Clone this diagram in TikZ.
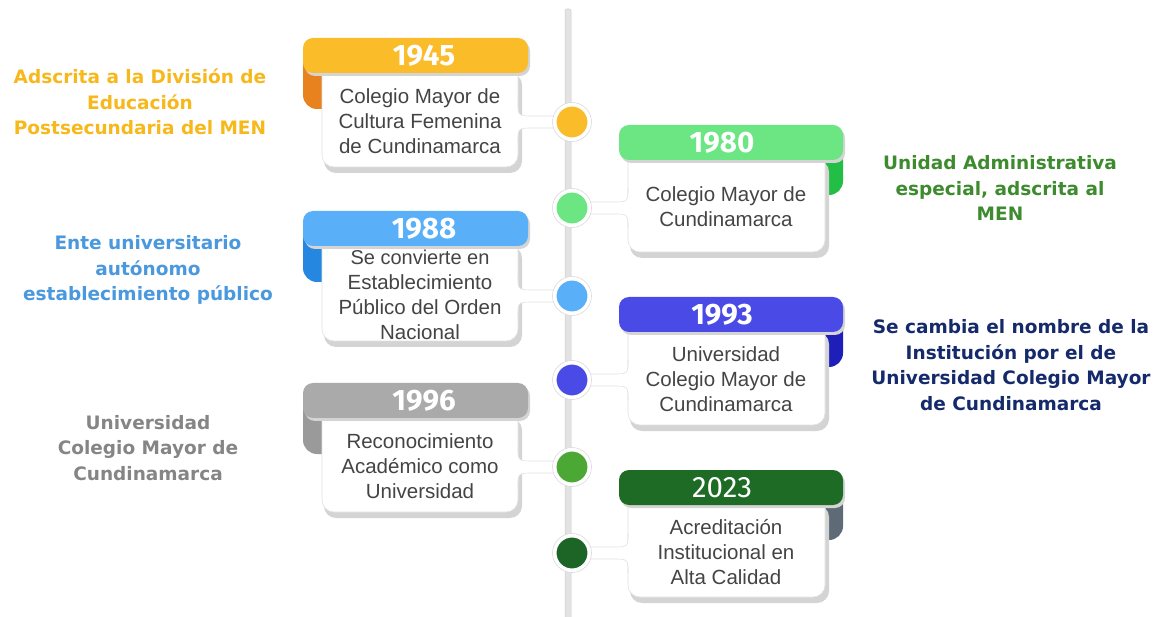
\documentclass[tikz,border=0pt]{standalone}
\usepackage{fontspec}
\setmainfont{Liberation Sans}
\newfontfamily\yearfont{Fira Sans}
\newfontfamily\notefont{DejaVu Sans}
\definecolor{cardgray}{HTML}{444444}
\definecolor{edgegray}{HTML}{E2E2E2}
\definecolor{shadowgray}{HTML}{D4D4D4}
\definecolor{ringgray}{HTML}{DADADA}
\definecolor{linegray}{HTML}{E3E3E3}
\definecolor{lineedge}{HTML}{CDCDCD}
\definecolor{hA}{HTML}{FBBC2A}\definecolor{tA}{HTML}{E8821E}\definecolor{dA}{HTML}{FBBC2A}
\definecolor{hB}{HTML}{6BE683}\definecolor{tB}{HTML}{22BE45}\definecolor{dB}{HTML}{6BE683}
\definecolor{hC}{HTML}{5AB0F8}\definecolor{tC}{HTML}{2587E0}\definecolor{dC}{HTML}{5AB0F8}
\definecolor{hD}{HTML}{4A4AE6}\definecolor{tD}{HTML}{1E1EB9}\definecolor{dD}{HTML}{4A4AE6}
\definecolor{hE}{HTML}{AAAAAA}\definecolor{tE}{HTML}{9A9A9A}\definecolor{dE}{HTML}{4CA834}
\definecolor{hF}{HTML}{1E6B26}\definecolor{tF}{HTML}{5E6B77}\definecolor{dF}{HTML}{1D6526}
\definecolor{nA}{HTML}{F7B81B}
\definecolor{nB}{HTML}{3E8B2F}
\definecolor{nC}{HTML}{4A98DE}
\definecolor{nD}{HTML}{152A6B}
\definecolor{nE}{HTML}{858585}
\tikzset{
  cardtext/.style={font=\fontsize{20.5}{25}\selectfont, text=cardgray, align=center, inner sep=0},
  yeartext/.style={font=\yearfont\bfseries\fontsize{29.5}{30}\selectfont, text=white, inner sep=0},
  yeartextlight/.style={font=\yearfont\fontsize{29.5}{30}\selectfont, text=white, inner sep=0},
  note/.style={font=\notefont\bfseries\fontsize{18.5}{25.7}\selectfont, align=center, inner sep=0},
  cardbody/.style={fill=white, draw=edgegray, line width=0.6pt, rounded corners=12pt},
  dot/.style={circle, draw=white, line width=3pt, minimum size=34pt, inner sep=0},
}
% #1 id, #2 header top, #3 dot y, #4 card bottom, #5 header, #6 tab, #7 dot, #8 year, #9 text
\newcommand\lcard[9]{%
  \pgfmathsetmacro\T{#2+35}\pgfmathsetmacro\M{(#2+35+#4)/2+1}%
  \fill[#6, rounded corners=14pt] (303,#2+15) rectangle (340,#2+71);
  \fill[shadowgray, rounded corners=12pt] (324,\T) rectangle (522,#4+6);
  \draw[cardbody] (322,\T-10) rectangle (518,#4);
  \fill[white] (517,#3-20) .. controls (518,#3-6) .. (534,#3-6) -- (572,#3-6) -- (572,#3+6) -- (534,#3+6) .. controls (518,#3+6) .. (517,#3+20) -- cycle;
  \draw[edgegray, line width=0.6pt] (518,#3-20) .. controls (518,#3-6) .. (534,#3-6) -- (558,#3-6)
     (518,#3+20) .. controls (518,#3+6) .. (534,#3+6) -- (558,#3+6);
  \fill[shadowgray, rounded corners=10pt] (305,#2+3) rectangle (530,#2+38);
  \fill[#5, rounded corners=10pt] (303,#2) rectangle (528,#2+35);
  \node[yeartext] (y#1) at (424,#2+18) {#8};
  \node[cardtext] (t#1) at (420,\M) {#9};
  \fill[white, draw=ringgray, line width=0.6pt] (572,#3) circle (19.5pt);
  \node[dot, fill=#7] (d#1) at (572,#3) {};
}
\newcommand\rcard[9]{%
  \pgfmathsetmacro\T{#2+35}\pgfmathsetmacro\M{(#2+35+#4)/2+1}%
  \fill[#6, rounded corners=14pt] (805,#2+15) rectangle (843,#2+70);
  \fill[shadowgray, rounded corners=12pt] (630,\T) rectangle (829,#4+6);
  \draw[cardbody] (628,\T-10) rectangle (825,#4);
  \fill[white] (629,#3-20) .. controls (628,#3-6) .. (612,#3-6) -- (572,#3-6) -- (572,#3+6) -- (612,#3+6) .. controls (628,#3+6) .. (629,#3+20) -- cycle;
  \draw[edgegray, line width=0.6pt] (628,#3-20) .. controls (628,#3-6) .. (612,#3-6) -- (586,#3-6)
     (628,#3+20) .. controls (628,#3+6) .. (612,#3+6) -- (586,#3+6);
  \fill[shadowgray, rounded corners=10pt] (621,#2+3) rectangle (845,#2+38);
  \fill[#5, rounded corners=10pt] (619,#2) rectangle (843,#2+35);
  \node[#8] (y#1) at (722,#2+18) {\yearlabel};
  \node[cardtext] (t#1) at (726,\M) {#9};
  \fill[white, draw=ringgray, line width=0.6pt] (572,#3) circle (19.5pt);
  \node[dot, fill=#7] (d#1) at (572,#3) {};
}
\begin{document}
\begin{tikzpicture}[x=1pt,y=-1pt]
\useasboundingbox (0,0) rectangle (1154,617);
\fill[white] (0,0) rectangle (1154,617);
% timeline
\draw[fill=linegray, draw=lineedge, line width=0.5pt, rounded corners=2pt] (565,9) -- (571,9) -- (571,620) -- (565,620) -- cycle;
% cards
\lcard{A}{38}{122}{167}{hA}{tA}{dA}{1945}{Colegio Mayor de\\Cultura Femenina\\de Cundinamarca}
\def\yearlabel{1980}
\rcard{B}{125}{208}{252}{hB}{tB}{dB}{yeartext}{Colegio Mayor de\\Cundinamarca}
\lcard{C}{211}{296}{341}{hC}{tC}{dC}{1988}{\fontsize{20}{23.4}\selectfont Se convierte en\\Establecimiento\\Público del Orden\\Nacional}
\def\yearlabel{1993}
\rcard{D}{297}{380}{425}{hD}{tD}{dD}{yeartext}{Universidad\\Colegio Mayor de\\Cundinamarca}
\lcard{E}{383}{467}{512}{hE}{tE}{dE}{1996}{Reconocimiento\\Académico como\\Universidad}
\def\yearlabel{2023}
\rcard{F}{470}{553}{597}{hF}{tF}{dF}{yeartextlight}{Acreditación\\Institucional en\\Alta Calidad}
% notes
\node[note, text=nA] (nA) at (140,102) {Adscrita a la División de\\Educación\\Postsecundaria del MEN};
\node[note, text=nB] (nB) at (1000,188) {Unidad Administrativa\\especial, adscrita al\\MEN};
\node[note, text=nC] (nC) at (148,270) {Ente universitario\\autónomo\\establecimiento público};
\node[note, text=nD] (nD) at (1011,365) {Se cambia el nombre de la\\Institución por el de\\Universidad Colegio Mayor\\de Cundinamarca};
\node[note, text=nE] (nE) at (148,448) {Universidad\\Colegio Mayor de\\Cundinamarca};
\end{tikzpicture}
\end{document}
